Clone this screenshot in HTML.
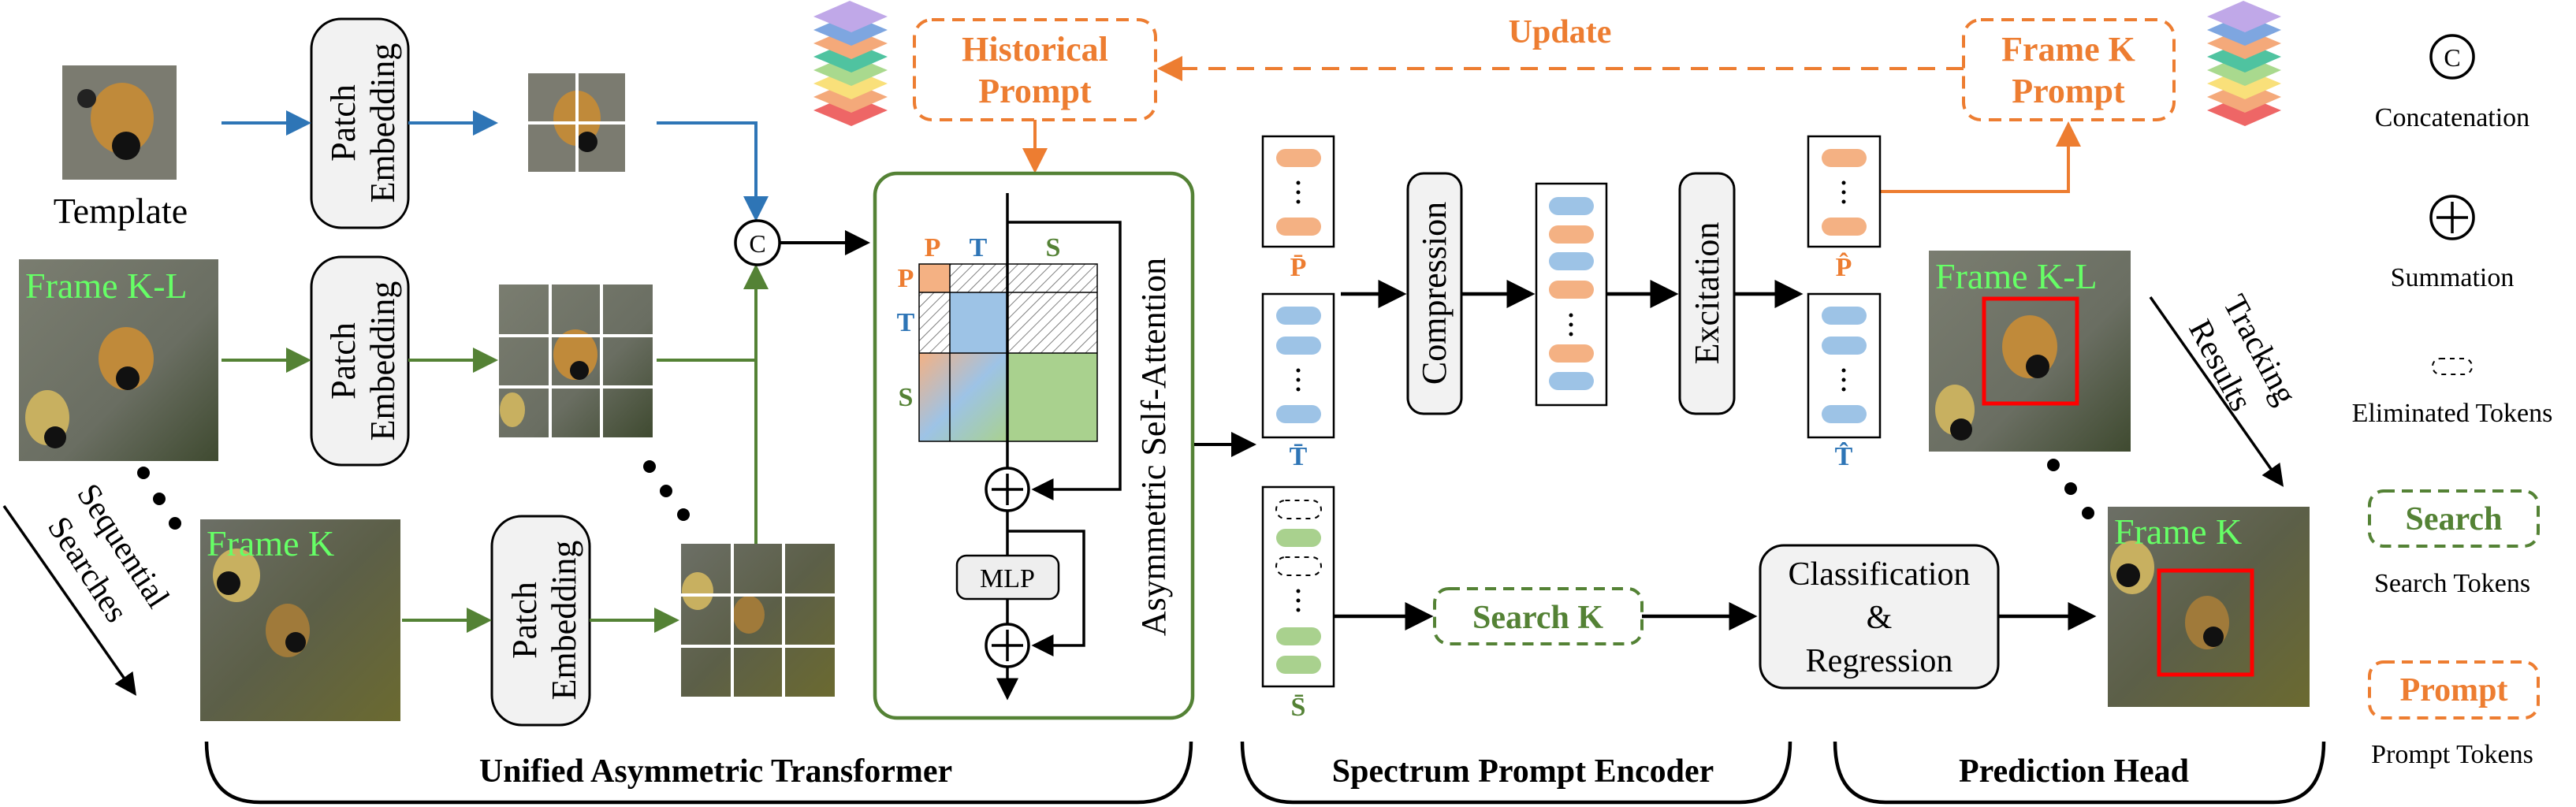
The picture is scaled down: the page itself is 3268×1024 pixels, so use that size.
<!DOCTYPE html>
<html><head><meta charset="utf-8"><style>
html,body{margin:0;padding:0;background:#fff;}
svg{display:block;}
text{font-family:"Liberation Serif",serif;}
</style></head><body>
<svg width="3268" height="1024" viewBox="0 0 3268 1024" xmlns="http://www.w3.org/2000/svg">
<defs>
<marker id="ab" markerWidth="8" markerHeight="8" refX="7" refY="4" orient="auto" markerUnits="strokeWidth"><path d="M0,0 L8,4 L0,8 z" fill="#000"/></marker>
<marker id="abl" markerWidth="8" markerHeight="8" refX="7" refY="4" orient="auto" markerUnits="strokeWidth"><path d="M0,0 L8,4 L0,8 z" fill="#2E75B6"/></marker>
<marker id="ag" markerWidth="8" markerHeight="8" refX="7" refY="4" orient="auto" markerUnits="strokeWidth"><path d="M0,0 L8,4 L0,8 z" fill="#548235"/></marker>
<marker id="ao" markerWidth="8" markerHeight="8" refX="7" refY="4" orient="auto" markerUnits="strokeWidth"><path d="M0,0 L8,4 L0,8 z" fill="#ED7D31"/></marker>
<pattern id="hatch" width="10" height="10" patternUnits="userSpaceOnUse" patternTransform="rotate(45)"><rect width="10" height="10" fill="#fff"/><line x1="0" y1="0" x2="0" y2="10" stroke="#555" stroke-width="1.5"/></pattern>
<linearGradient id="sg" x1="0" y1="0" x2="1" y2="1"><stop offset="0" stop-color="#F4B183"/><stop offset="0.5" stop-color="#9DC3E6"/><stop offset="1" stop-color="#A9D18E"/></linearGradient>
<linearGradient id="img1" x1="0" y1="0" x2="1" y2="1"><stop offset="0" stop-color="#7a7d70"/><stop offset="0.6" stop-color="#6a6e62"/><stop offset="1" stop-color="#3f4a30"/></linearGradient>
<linearGradient id="img2" x1="0" y1="0" x2="1" y2="1"><stop offset="0" stop-color="#6c6f66"/><stop offset="0.5" stop-color="#5c5f48"/><stop offset="1" stop-color="#6b6a30"/></linearGradient>
</defs>

<!-- Template image -->
<rect x="79" y="83" width="145" height="145" fill="#7b7b70"/>
<ellipse cx="155" cy="150" rx="40" ry="45" fill="#c08a3a"/>
<circle cx="160" cy="185" r="18" fill="#111"/>
<circle cx="110" cy="125" r="12" fill="#222"/>
<text x="153" y="283" font-size="46" text-anchor="middle">Template</text>

<!-- Patch Embedding boxes -->
<g fill="#f2f2f2" stroke="#000" stroke-width="3">
<rect x="395" y="24" width="123" height="265" rx="38"/>
<rect x="395" y="326" width="123" height="264" rx="38"/>
<rect x="624" y="655" width="124" height="265" rx="38"/>
</g>
<g font-size="44" text-anchor="middle">
<text transform="translate(450,156) rotate(-90)">Patch</text>
<text transform="translate(500,156) rotate(-90)">Embedding</text>
<text transform="translate(450,458) rotate(-90)">Patch</text>
<text transform="translate(500,458) rotate(-90)">Embedding</text>
<text transform="translate(680,787) rotate(-90)">Patch</text>
<text transform="translate(730,787) rotate(-90)">Embedding</text>
</g>

<!-- Template patches -->
<rect x="670" y="93" width="123" height="125" fill="#7b7b70"/>
<ellipse cx="732" cy="150" rx="30" ry="35" fill="#c08a3a"/>
<circle cx="745" cy="180" r="13" fill="#111"/>
<line x1="732" y1="93" x2="732" y2="218" stroke="#fff" stroke-width="4"/>
<line x1="670" y1="156" x2="793" y2="156" stroke="#fff" stroke-width="4"/>

<!-- Frame K-L -->
<rect x="24" y="329" width="253" height="256" fill="url(#img1)"/>
<ellipse cx="160" cy="455" rx="35" ry="40" fill="#c08a3a"/>
<circle cx="162" cy="480" r="15" fill="#111"/>
<ellipse cx="60" cy="530" rx="28" ry="35" fill="#c8b060"/>
<circle cx="70" cy="555" r="14" fill="#111"/>
<text x="32" y="378" font-size="46" fill="#66FF66">Frame K-L</text>

<!-- Grid 2 -->
<rect x="633" y="361" width="195" height="194" fill="url(#img1)"/>
<ellipse cx="730" cy="450" rx="28" ry="32" fill="#c08a3a"/>
<circle cx="735" cy="470" r="12" fill="#111"/>
<ellipse cx="650" cy="520" rx="16" ry="22" fill="#c8b060"/>
<g stroke="#fff" stroke-width="4"><line x1="698" y1="361" x2="698" y2="555"/><line x1="763" y1="361" x2="763" y2="555"/><line x1="633" y1="426" x2="828" y2="426"/><line x1="633" y1="491" x2="828" y2="491"/></g>

<!-- Frame K -->
<rect x="254" y="659" width="254" height="256" fill="url(#img2)"/>
<ellipse cx="300" cy="730" rx="30" ry="34" fill="#c8b060"/>
<circle cx="290" cy="740" r="15" fill="#111"/>
<ellipse cx="365" cy="800" rx="28" ry="34" fill="#a07a3a"/>
<circle cx="375" cy="815" r="13" fill="#111"/>
<text x="262" y="705" font-size="46" fill="#66FF66">Frame K</text>

<!-- Grid 3 -->
<rect x="864" y="690" width="195" height="194" fill="url(#img2)"/>
<ellipse cx="885" cy="750" rx="20" ry="24" fill="#c8b060"/>
<ellipse cx="950" cy="780" rx="20" ry="24" fill="#a07a3a"/>
<g stroke="#fff" stroke-width="4"><line x1="929" y1="690" x2="929" y2="884"/><line x1="994" y1="690" x2="994" y2="884"/><line x1="864" y1="755" x2="1059" y2="755"/><line x1="864" y1="820" x2="1059" y2="820"/></g>

<!-- arrows -->
<g stroke-width="4" fill="none">
<line x1="281" y1="156" x2="391" y2="156" stroke="#2E75B6" marker-end="url(#abl)"/>
<line x1="518" y1="156" x2="628" y2="156" stroke="#2E75B6" marker-end="url(#abl)"/>
<polyline points="833,156 959,156 959,277" stroke="#2E75B6" marker-end="url(#abl)"/>
<line x1="281" y1="457" x2="391" y2="457" stroke="#548235" marker-end="url(#ag)"/>
<line x1="518" y1="457" x2="628" y2="457" stroke="#548235" marker-end="url(#ag)"/>
<line x1="833" y1="457" x2="959" y2="457" stroke="#548235"/>
<line x1="959" y1="690" x2="959" y2="339" stroke="#548235" marker-end="url(#ag)"/>
<line x1="510" y1="787" x2="620" y2="787" stroke="#548235" marker-end="url(#ag)"/>
<line x1="748" y1="787" x2="858" y2="787" stroke="#548235" marker-end="url(#ag)"/>
<line x1="989" y1="308" x2="1100" y2="308" stroke="#000" marker-end="url(#ab)"/>
<line x1="5" y1="642" x2="171" y2="880" stroke="#000" stroke-width="3.5" marker-end="url(#ab)"/>
</g>
<circle cx="961" cy="308" r="28" fill="#fff" stroke="#000" stroke-width="3.5"/>
<text x="961" y="320" font-size="32" text-anchor="middle">C</text>

<!-- dots -->
<g fill="#000"><circle cx="182" cy="600" r="8"/><circle cx="202" cy="633" r="8"/><circle cx="222" cy="664" r="8"/>
<circle cx="824" cy="592" r="8"/><circle cx="845" cy="623" r="8"/><circle cx="867" cy="653" r="8"/>
<circle cx="2605" cy="590" r="8"/><circle cx="2627" cy="620" r="8"/><circle cx="2649" cy="651" r="8"/></g>

<text transform="translate(145,700) rotate(57)" font-size="42" text-anchor="middle">Sequential</text>
<text transform="translate(100,730) rotate(57)" font-size="42" text-anchor="middle">Searches</text>

<!-- layer stacks -->
<g id="stack">
<polygon points="1032,140 1078,120 1126,140 1080,160" fill="#EE6666"/>
<polygon points="1032,123 1078,103 1126,123 1080,143" fill="#F4A97A"/>
<polygon points="1032,106 1078,86 1126,106 1080,126" fill="#F9E07A"/>
<polygon points="1032,89 1078,69 1126,89 1080,109" fill="#A9D98E"/>
<polygon points="1032,72 1078,52 1126,72 1080,92" fill="#4FC3A0"/>
<polygon points="1032,55 1078,35 1126,55 1080,75" fill="#F4A97A"/>
<polygon points="1032,38 1078,18 1126,38 1080,58" fill="#7EA6E0"/>
<polygon points="1032,21 1078,1 1126,21 1080,41" fill="#C0A8E8"/>
</g>
<use href="#stack" transform="translate(1768,0)"/>

<!-- Historical Prompt -->
<rect x="1160" y="25" width="306" height="127" rx="22" fill="none" stroke="#ED7D31" stroke-width="4" stroke-dasharray="16,10"/>
<text x="1313" y="77" font-size="44" font-weight="bold" fill="#ED7D31" text-anchor="middle">Historical</text>
<text x="1313" y="130" font-size="44" font-weight="bold" fill="#ED7D31" text-anchor="middle">Prompt</text>
<line x1="1313" y1="152" x2="1313" y2="216" stroke="#ED7D31" stroke-width="4" marker-end="url(#ao)"/>

<!-- Frame K Prompt -->
<rect x="2491" y="25" width="267" height="127" rx="22" fill="none" stroke="#ED7D31" stroke-width="4" stroke-dasharray="16,10"/>
<text x="2624" y="77" font-size="44" font-weight="bold" fill="#ED7D31" text-anchor="middle">Frame K</text>
<text x="2624" y="130" font-size="44" font-weight="bold" fill="#ED7D31" text-anchor="middle">Prompt</text>
<line x1="2491" y1="87" x2="1472" y2="87" stroke="#ED7D31" stroke-width="4" stroke-dasharray="22,14" marker-end="url(#ao)"/>
<text x="1979" y="54" font-size="42" font-weight="bold" fill="#ED7D31" text-anchor="middle">Update</text>
<polyline points="2385,243 2624,243 2624,158" fill="none" stroke="#ED7D31" stroke-width="4" marker-end="url(#ao)"/>

<!-- Green transformer box -->
<rect x="1110" y="220" width="403" height="691" rx="28" fill="none" stroke="#548235" stroke-width="4.5"/>
<!-- matrix -->
<rect x="1166" y="335" width="39" height="36" fill="#F4B183"/>
<rect x="1205" y="335" width="187" height="36" fill="url(#hatch)"/>
<rect x="1166" y="371" width="39" height="77" fill="url(#hatch)"/>
<rect x="1205" y="371" width="73" height="77" fill="#9DC3E6"/>
<rect x="1278" y="371" width="114" height="77" fill="url(#hatch)"/>
<rect x="1166" y="448" width="112" height="112" fill="url(#sg)"/>
<rect x="1278" y="448" width="114" height="112" fill="#A9D18E"/>
<g stroke="#000" stroke-width="1.5" fill="none">
<rect x="1166" y="335" width="226" height="225"/>
<line x1="1205" y1="335" x2="1205" y2="560"/><line x1="1166" y1="371" x2="1392" y2="371"/><line x1="1166" y1="448" x2="1392" y2="448"/>
</g>
<g font-size="34" font-weight="bold">
<text x="1183" y="325" fill="#ED7D31" text-anchor="middle">P</text>
<text x="1241" y="325" fill="#2E75B6" text-anchor="middle">T</text>
<text x="1336" y="325" fill="#548235" text-anchor="middle">S</text>
<text x="1149" y="364" fill="#ED7D31" text-anchor="middle">P</text>
<text x="1149" y="420" fill="#2E75B6" text-anchor="middle">T</text>
<text x="1149" y="515" fill="#548235" text-anchor="middle">S</text>
</g>
<g stroke="#000" stroke-width="3.5" fill="none">
<line x1="1278" y1="245" x2="1278" y2="593"/>
<polyline points="1278,282 1421,282 1421,621 1312,621" marker-end="url(#ab)"/>
<line x1="1278" y1="649" x2="1278" y2="705"/>
<polyline points="1278,674 1375,674 1375,819 1312,819" marker-end="url(#ab)"/>
<line x1="1278" y1="760" x2="1278" y2="791"/>
<line x1="1278" y1="847" x2="1278" y2="885" marker-end="url(#ab)"/>
</g>
<g fill="#fff" stroke="#000" stroke-width="3.5">
<circle cx="1278" cy="621" r="27"/><circle cx="1278" cy="819" r="27"/>
</g>
<g stroke="#000" stroke-width="3.5"><line x1="1258" y1="621" x2="1298" y2="621"/><line x1="1278" y1="601" x2="1278" y2="641"/><line x1="1258" y1="819" x2="1298" y2="819"/><line x1="1278" y1="799" x2="1278" y2="839"/></g>
<rect x="1214" y="705" width="129" height="55" rx="12" fill="#eee" stroke="#000" stroke-width="2.5"/>
<text x="1278" y="745" font-size="34" text-anchor="middle">MLP</text>
<text transform="translate(1478,567) rotate(-90)" font-size="44" text-anchor="middle">Asymmetric Self-Attention</text>
<line x1="1515" y1="564" x2="1590" y2="564" stroke="#000" stroke-width="4" marker-end="url(#ab)"/>

<!-- token columns -->
<g fill="#fff" stroke="#000" stroke-width="2.5">
<rect x="1602" y="173" width="90" height="140"/>
<rect x="1602" y="373" width="90" height="182"/>
<rect x="1602" y="618" width="90" height="253"/>
<rect x="1949" y="233" width="89" height="281"/>
<rect x="2294" y="173" width="91" height="140"/>
<rect x="2294" y="373" width="91" height="182"/>
</g>
<g>
<rect x="1619" y="189" width="57" height="23" rx="11.5" fill="#F4B183"/>
<rect x="1619" y="276" width="57" height="23" rx="11.5" fill="#F4B183"/>
<rect x="1619" y="389" width="57" height="23" rx="11.5" fill="#9DC3E6"/>
<rect x="1619" y="427" width="57" height="23" rx="11.5" fill="#9DC3E6"/>
<rect x="1619" y="514" width="57" height="23" rx="11.5" fill="#9DC3E6"/>
<rect x="1619" y="635" width="57" height="23" rx="11.5" fill="none" stroke="#000" stroke-width="2" stroke-dasharray="6,6"/>
<rect x="1619" y="671" width="57" height="23" rx="11.5" fill="#A9D18E"/>
<rect x="1619" y="707" width="57" height="23" rx="11.5" fill="none" stroke="#000" stroke-width="2" stroke-dasharray="6,6"/>
<rect x="1619" y="796" width="57" height="23" rx="11.5" fill="#A9D18E"/>
<rect x="1619" y="832" width="57" height="23" rx="11.5" fill="#A9D18E"/>
<rect x="1965" y="250" width="57" height="23" rx="11.5" fill="#9DC3E6"/>
<rect x="1965" y="286" width="57" height="23" rx="11.5" fill="#F4B183"/>
<rect x="1965" y="320" width="57" height="23" rx="11.5" fill="#9DC3E6"/>
<rect x="1965" y="356" width="57" height="23" rx="11.5" fill="#F4B183"/>
<rect x="1965" y="437" width="57" height="23" rx="11.5" fill="#F4B183"/>
<rect x="1965" y="472" width="57" height="23" rx="11.5" fill="#9DC3E6"/>
<rect x="2311" y="189" width="57" height="23" rx="11.5" fill="#F4B183"/>
<rect x="2311" y="276" width="57" height="23" rx="11.5" fill="#F4B183"/>
<rect x="2311" y="389" width="57" height="23" rx="11.5" fill="#9DC3E6"/>
<rect x="2311" y="427" width="57" height="23" rx="11.5" fill="#9DC3E6"/>
<rect x="2311" y="514" width="57" height="23" rx="11.5" fill="#9DC3E6"/>
</g>
<g fill="#000">
<circle cx="1647" cy="232" r="2.5"/><circle cx="1647" cy="244" r="2.5"/><circle cx="1647" cy="256" r="2.5"/>
<circle cx="1647" cy="470" r="2.5"/><circle cx="1647" cy="482" r="2.5"/><circle cx="1647" cy="494" r="2.5"/>
<circle cx="1647" cy="750" r="2.5"/><circle cx="1647" cy="762" r="2.5"/><circle cx="1647" cy="774" r="2.5"/>
<circle cx="1993" cy="400" r="2.5"/><circle cx="1993" cy="412" r="2.5"/><circle cx="1993" cy="424" r="2.5"/>
<circle cx="2339" cy="232" r="2.5"/><circle cx="2339" cy="244" r="2.5"/><circle cx="2339" cy="256" r="2.5"/>
<circle cx="2339" cy="470" r="2.5"/><circle cx="2339" cy="482" r="2.5"/><circle cx="2339" cy="494" r="2.5"/>
</g>
<g font-size="34" font-weight="bold" text-anchor="middle">
<text x="1647" y="350" fill="#ED7D31">P̄</text>
<text x="1647" y="590" fill="#2E75B6">T̄</text>
<text x="1647" y="908" fill="#548235">S̄</text>
<text x="2339" y="350" fill="#ED7D31">P̂</text>
<text x="2339" y="590" fill="#2E75B6">T̂</text>
</g>

<!-- compression / excitation -->
<rect x="1786" y="220" width="68" height="305" rx="20" fill="#f2f2f2" stroke="#000" stroke-width="3"/>
<rect x="2131" y="220" width="69" height="305" rx="20" fill="#f2f2f2" stroke="#000" stroke-width="3"/>
<text transform="translate(1834,372) rotate(-90)" font-size="44" text-anchor="middle">Compression</text>
<text transform="translate(2180,372) rotate(-90)" font-size="44" text-anchor="middle">Excitation</text>
<g stroke="#000" stroke-width="4.5">
<line x1="1701" y1="373" x2="1780" y2="373" marker-end="url(#ab)"/>
<line x1="1854" y1="373" x2="1943" y2="373" marker-end="url(#ab)"/>
<line x1="2038" y1="373" x2="2125" y2="373" marker-end="url(#ab)"/>
<line x1="2200" y1="373" x2="2283" y2="373" marker-end="url(#ab)"/>
<line x1="1692" y1="782" x2="1814" y2="782" marker-end="url(#ab)"/>
<line x1="2083" y1="782" x2="2225" y2="782" marker-end="url(#ab)"/>
<line x1="2535" y1="782" x2="2655" y2="782" marker-end="url(#ab)"/>
<line x1="2728" y1="377" x2="2895" y2="615" stroke-width="3.5" marker-end="url(#ab)"/>
</g>
<!-- Search K -->
<rect x="1820" y="747" width="263" height="70" rx="18" fill="#fff" stroke="#548235" stroke-width="4" stroke-dasharray="14,9"/>
<text x="1951" y="797" font-size="42" font-weight="bold" fill="#548235" text-anchor="middle">Search K</text>
<!-- Classification -->
<rect x="2233" y="692" width="302" height="181" rx="30" fill="#f2f2f2" stroke="#000" stroke-width="3"/>
<text x="2384" y="742" font-size="42" text-anchor="middle">Classification</text>
<text x="2384" y="797" font-size="42" text-anchor="middle">&amp;</text>
<text x="2384" y="852" font-size="42" text-anchor="middle">Regression</text>

<!-- right images -->
<rect x="2447" y="318" width="256" height="255" fill="url(#img1)"/>
<ellipse cx="2575" cy="440" rx="35" ry="40" fill="#c08a3a"/>
<circle cx="2585" cy="465" r="15" fill="#111"/>
<ellipse cx="2480" cy="520" rx="25" ry="32" fill="#c8b060"/>
<circle cx="2488" cy="545" r="14" fill="#111"/>
<rect x="2517" y="379" width="118" height="133" fill="none" stroke="#f00" stroke-width="5"/>
<text x="2455" y="366" font-size="46" fill="#66FF66">Frame K-L</text>

<rect x="2674" y="643" width="256" height="254" fill="url(#img2)"/>
<ellipse cx="2705" cy="720" rx="28" ry="34" fill="#c8b060"/>
<circle cx="2700" cy="730" r="15" fill="#111"/>
<ellipse cx="2800" cy="790" rx="28" ry="34" fill="#a07a3a"/>
<circle cx="2808" cy="808" r="13" fill="#111"/>
<rect x="2739" y="724" width="118" height="132" fill="none" stroke="#f00" stroke-width="5"/>
<text x="2682" y="690" font-size="46" fill="#66FF66">Frame K</text>

<text transform="translate(2855,450) rotate(62)" font-size="42" text-anchor="middle">Tracking</text>
<text transform="translate(2805,470) rotate(62)" font-size="42" text-anchor="middle">Results</text>

<!-- legend -->
<circle cx="3111" cy="72" r="27" fill="#fff" stroke="#000" stroke-width="3.5"/>
<text x="3111" y="84" font-size="32" text-anchor="middle">C</text>
<text x="3111" y="160" font-size="34" text-anchor="middle">Concatenation</text>
<circle cx="3111" cy="276" r="27" fill="#fff" stroke="#000" stroke-width="3.5"/>
<g stroke="#000" stroke-width="3.5"><line x1="3091" y1="276" x2="3131" y2="276"/><line x1="3111" y1="256" x2="3131" y2="256" stroke="none"/><line x1="3111" y1="256" x2="3111" y2="296"/></g>
<text x="3111" y="363" font-size="34" text-anchor="middle">Summation</text>
<rect x="3086" y="455" width="50" height="20" rx="10" fill="none" stroke="#000" stroke-width="2" stroke-dasharray="6,6"/>
<text x="3111" y="535" font-size="34" text-anchor="middle">Eliminated Tokens</text>
<rect x="3006" y="623" width="214" height="70" rx="18" fill="none" stroke="#548235" stroke-width="4" stroke-dasharray="14,9"/>
<text x="3113" y="672" font-size="42" font-weight="bold" fill="#548235" text-anchor="middle">Search</text>
<text x="3111" y="751" font-size="34" text-anchor="middle">Search Tokens</text>
<rect x="3006" y="840" width="214" height="71" rx="18" fill="none" stroke="#ED7D31" stroke-width="4" stroke-dasharray="14,9"/>
<text x="3113" y="889" font-size="42" font-weight="bold" fill="#ED7D31" text-anchor="middle">Prompt</text>
<text x="3111" y="968" font-size="34" text-anchor="middle">Prompt Tokens</text>

<!-- braces -->
<g fill="none" stroke="#000" stroke-width="4.5">
<path d="M262,941 Q262,1018 330,1018 L1443,1018 Q1511,1018 1511,941"/>
<path d="M1576,941 Q1576,1018 1640,1018 L2207,1018 Q2271,1018 2271,941"/>
<path d="M2328,941 Q2328,1018 2392,1018 L2884,1018 Q2948,1018 2948,941"/>
</g>
<g font-size="42" font-weight="bold" text-anchor="middle">
<text x="908" y="992">Unified Asymmetric Transformer</text>
<text x="1932" y="992">Spectrum Prompt Encoder</text>
<text x="2631" y="992">Prediction Head</text>
</g>
</svg>
</body></html>
